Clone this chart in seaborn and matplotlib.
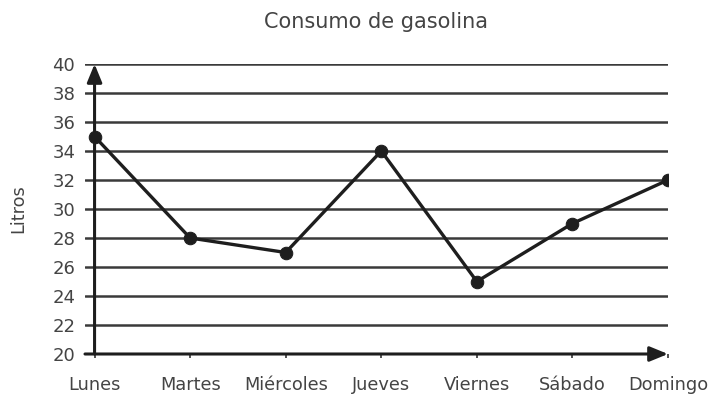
import seaborn as sns
import matplotlib.pyplot as plt
import pandas as pd

dias = ['Lunes', 'Martes', 'Miércoles', 'Jueves', 'Viernes', 'Sábado', 'Domingo']
litros = [35, 28, 27, 34, 25, 29, 32]
y_ticks = [20, 22, 24, 26, 28, 30, 32, 34, 36, 38, 40]

df = pd.DataFrame({'dia': range(len(dias)), 'litros': litros})

sns.set_style('white')
plt.rcParams['font.family'] = ['DejaVu Sans']

fig = plt.figure(figsize=(7.12, 4.01), dpi=100)
ax = fig.add_axes([85/712, 47/401, 583/712, 290/401])

# horizontal lines
for t in y_ticks[1:]:
    ax.axhline(t, color='#3a3a3a', lw=1.8, zorder=1)

sns.lineplot(data=df, x='dia', y='litros', marker='o', color='#1e1e1e',
             lw=2.4, markersize=9, markeredgecolor='#1e1e1e', ax=ax, zorder=3)

ax.set_xlim(-0.1, 6.0)
ax.set_ylim(20, 40)
for s in ax.spines.values():
    s.set_visible(False)

# axes with arrows
ax.annotate('', xy=(6.0, 20), xytext=(-0.1, 20),
            arrowprops=dict(arrowstyle='-|>,head_length=1.1,head_width=0.45',
                            color='#1e1e1e', lw=2.2, shrinkA=0, shrinkB=0),
            annotation_clip=False, zorder=4)
ax.annotate('', xy=(0, 40), xytext=(0, 20),
            arrowprops=dict(arrowstyle='-|>,head_length=1.1,head_width=0.45',
                            color='#1e1e1e', lw=2.2, shrinkA=0, shrinkB=0),
            annotation_clip=False, zorder=4)

ax.set_yticks(y_ticks)
ax.set_yticklabels([str(t) for t in y_ticks], fontsize=13, color='#444444')
ax.set_xticks(range(len(dias)))
ax.set_xticklabels(dias, fontsize=12.8, color='#444444')
ax.tick_params(axis='x', length=3, width=1.2, color='#333333', pad=13, direction='out', bottom=True)
ax.tick_params(axis='y', length=0, pad=7)
ax.set_xlabel('')
ax.set_ylabel('Litros', fontsize=12.8, color='#444444', labelpad=18)
ax.set_title('Consumo de gasolina', fontsize=15, color='#444444', pad=26)

fig.savefig('out.png', dpi=100)
